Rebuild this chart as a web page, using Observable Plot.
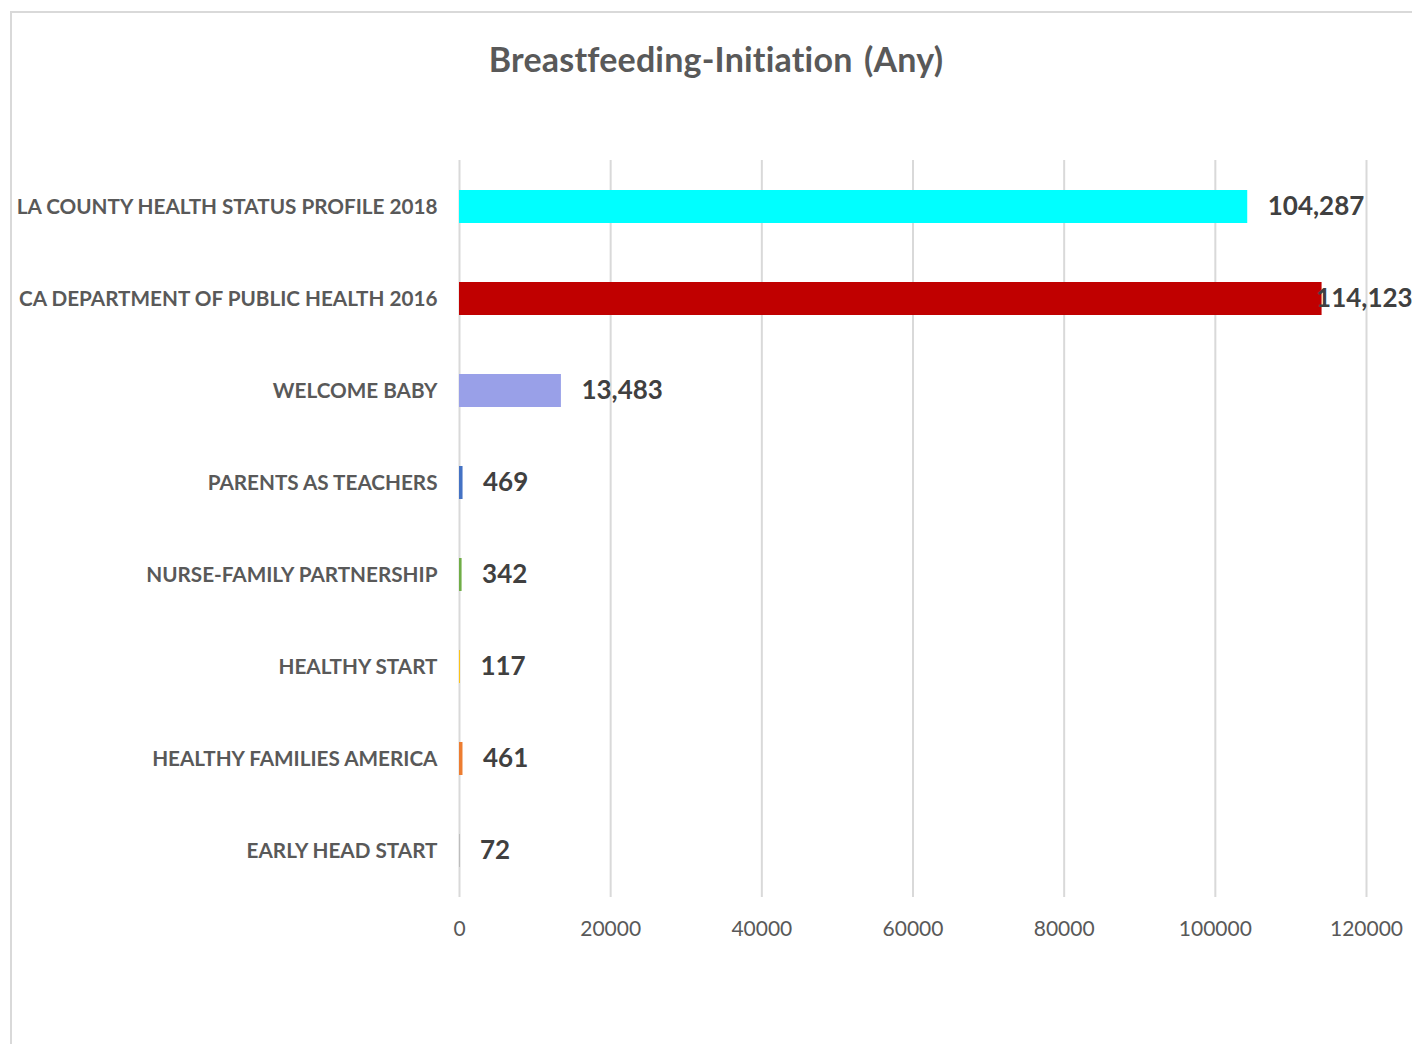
<!DOCTYPE html>
<html>
<head>
<meta charset="utf-8">
<script src="https://cdn.jsdelivr.net/npm/d3@7"></script>
<script src="https://cdn.jsdelivr.net/npm/@observablehq/plot@0.6"></script>
<style>
  html, body { margin: 0; padding: 0; background: #fff; width: 1412px; height: 1044px; overflow: hidden; }
  #frame { position: absolute; left: 10px; top: 11px; width: 1420px; height: 1050px; border: 2px solid #d9d9d9; box-sizing: border-box; }
  #title { position: absolute; left: 0; width: 1432px; top: 38px; text-align: center; font-family: Lato, "Open Sans", sans-serif; font-weight: bold; font-size: 34px; color: #595959; margin: 0; letter-spacing: 0.2px; word-spacing: 3px; }
  #chart { position: absolute; left: 0; top: 0; }
</style>
</head>
<body>
<div id="frame"></div>
<div id="title">Breastfeeding-Initiation (Any)</div>
<div id="chart"></div>
<script>
const categories = [
  "LA COUNTY HEALTH STATUS PROFILE 2018",
  "CA DEPARTMENT OF PUBLIC HEALTH 2016",
  "WELCOME BABY",
  "PARENTS AS TEACHERS",
  "NURSE-FAMILY PARTNERSHIP",
  "HEALTHY START",
  "HEALTHY FAMILIES AMERICA",
  "EARLY HEAD START"
];
const values = [104287, 114123, 13483, 469, 342, 117, 461, 72];
const barColors = ["#00FFFF", "#C00000", "#99A0E8", "#4472C4", "#70AD47", "#FFC000", "#ED7D31", "#A5A5A5"];
const xTicks = [0, 20000, 40000, 60000, 80000, 100000, 120000];

const data = categories.map((c, i) => ({cat: c, value: values[i], color: barColors[i]}));
const fmt = d3.format(",");
const font = "Lato, 'Open Sans', sans-serif";

const chart = Plot.plot({
  width: 1412,
  height: 1044,
  marginTop: 160,
  marginBottom: 147,
  marginLeft: 459,
  marginRight: 46,
  style: {fontFamily: font, color: "#595959", background: "transparent"},
  x: {domain: [0, 120000]},
  y: {domain: categories, paddingInner: 0.64, paddingOuter: 0.3},
  color: {type: "identity"},
  marks: [
    Plot.gridX(xTicks, {stroke: "#d9d9d9", strokeOpacity: 1, strokeWidth: 2}),
    Plot.barX(data, {x: "value", y: "cat", fill: "color"}),
    Plot.text(data.filter(d => d.value < 110000), {
      x: "value", y: "cat", text: d => fmt(d.value), textAnchor: "start", dx: 20,
      fontSize: 26, fontWeight: "bold", fill: "#404040"
    }),
    Plot.text(data.filter(d => d.value >= 110000), {
      x: "value", y: "cat", text: d => fmt(d.value), textAnchor: "start", dx: -6,
      fontSize: 26, fontWeight: "bold", fill: "#404040"
    }),
    Plot.axisX(xTicks, {tickSize: 0, tickPadding: 24, fontSize: 21, tickFormat: d => String(d), fill: "#595959", label: null}),
    Plot.axisY({tickSize: 0, tickPadding: 22, fontSize: 20.7, fontWeight: "bold", fill: "#595959", label: null})
  ]
});
document.getElementById("chart").appendChild(chart);
</script>
</body>
</html>
